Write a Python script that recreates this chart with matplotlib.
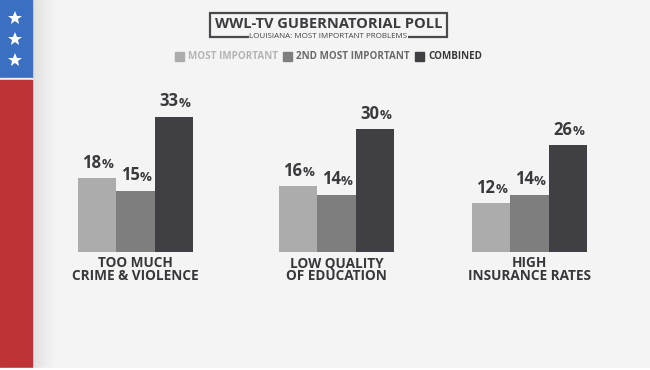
import matplotlib
matplotlib.use("Agg")
import matplotlib.pyplot as plt
import numpy as np
from matplotlib.patches import Rectangle

categories = ["TOO MUCH\nCRIME & VIOLENCE", "LOW QUALITY\nOF EDUCATION", "HIGH\nINSURANCE RATES"]
series_names = ["MOST IMPORTANT", "2ND MOST IMPORTANT", "COMBINED"]
most_important = [18, 16, 12]
second_most = [15, 14, 14]
combined = [33, 30, 26]
colors = ["#acacac", "#7e7e7e", "#404044"]
legend_text_colors = ["#b4b4b4", "#6a6a6a", "#3a3a3e"]

W, H = 650, 370
fig = plt.figure(figsize=(6.5, 3.7), dpi=100)
fig.patch.set_facecolor("#f4f4f4")

# background / decoration axes in pixel coords
bg = fig.add_axes([0, 0, 1, 1])
bg.set_xlim(0, W)
bg.set_ylim(H, 0)
bg.axis("off")
grad = np.linspace(0, 1, 64)[None, :]
bg.imshow(np.dstack([np.full((1, 64), 0.85)] * 3 + [(1 - grad) ** 1.5 * 0.8]),
          extent=(32, 58, 368, 0), aspect="auto", zorder=1)
bg.add_patch(Rectangle((0, 0), 32, 78, color="#3b6fc2", zorder=2))
bg.add_patch(Rectangle((0, 78), 32, 2, color="#f0f0f0", zorder=2))
bg.add_patch(Rectangle((0, 80), 32, 288, color="#be3335", zorder=2))
bg.add_patch(Rectangle((0, 368), W, 2, color="#ffffff", zorder=2))
for sy in [18, 39, 60]:
    bg.plot(15, sy, marker="*", color="white", markersize=10.5, markeredgewidth=0, zorder=3)

# title box
bg.add_patch(Rectangle((210, 13), 237, 24, fill=False, edgecolor="#4a4a4e", linewidth=1.6, zorder=3))
bg.text(328.5, 23.5, "WWL-TV GUBERNATORIAL POLL", ha="center", va="center", fontsize=10.5,
        fontweight="bold", color="#3c3c40", family="Open Sans", zorder=4)
bg.text(328.5, 36.0, "LOUISIANA: MOST IMPORTANT PROBLEMS", ha="center", va="center", fontsize=5.8,
        color="#444448", family="Open Sans", zorder=5,
        bbox=dict(facecolor="#f4f4f4", edgecolor="none", pad=0.6))

# legend
leg_x = [175, 283, 415]
for lx, name, c, tc in zip(leg_x, series_names, colors, legend_text_colors):
    bg.add_patch(Rectangle((lx, 51.5), 9, 9, color=c, zorder=3))
    bg.text(lx + 13.5, 56.3, name, ha="left", va="center", fontsize=7.1, fontweight="bold",
            color=tc, family="Open Sans", zorder=4)

# main bar axes
x0_px, x1_px = 40, 630
spacing = 197.0
center0 = 135.5
xl = (x0_px - center0) / spacing
xr = (x1_px - center0) / spacing
base_px = 252
ppp = 4.1
ymax = 40
ax = fig.add_axes([x0_px / W, 1 - base_px / H, (x1_px - x0_px) / W, ymax * ppp / H])
ax.set_xlim(xl, xr)
ax.set_ylim(0, ymax)
ax.patch.set_alpha(0)
for s in ax.spines.values():
    s.set_visible(False)
ax.set_yticks([])

group_nudge = np.array([0.0, 0.02, 0.0])  # layout tweak for uneven group spacing
x = np.arange(len(categories)) + group_nudge
bw = 38.3 / spacing
series = [most_important, second_most, combined]
for i, (vals, c) in enumerate(zip(series, colors)):
    pos = x + (i - 1) * bw
    ax.bar(pos, vals, width=bw, color=c, edgecolor="none", zorder=2)
    for px_, v in zip(pos, vals):
        ax.annotate(f"{v}", (px_, v), xytext=(3.0, 4.5), textcoords="offset points",
                    ha="right", va="bottom", fontsize=12, fontweight="bold",
                    color="#3a3a3e", family="Open Sans")
        ax.annotate("%", (px_, v), xytext=(3.2, 5.0), textcoords="offset points",
                    ha="left", va="bottom", fontsize=9.5, fontweight="bold",
                    color="#3a3a3e", family="Open Sans")

ax.set_xticks(x)
ax.set_xticklabels(categories, fontsize=9.8, fontweight="bold", color="#38383c",
                   family="Open Sans", linespacing=0.88)
ax.tick_params(axis="x", length=0, pad=3)

fig.savefig("out.png", dpi=100, facecolor=fig.get_facecolor())
